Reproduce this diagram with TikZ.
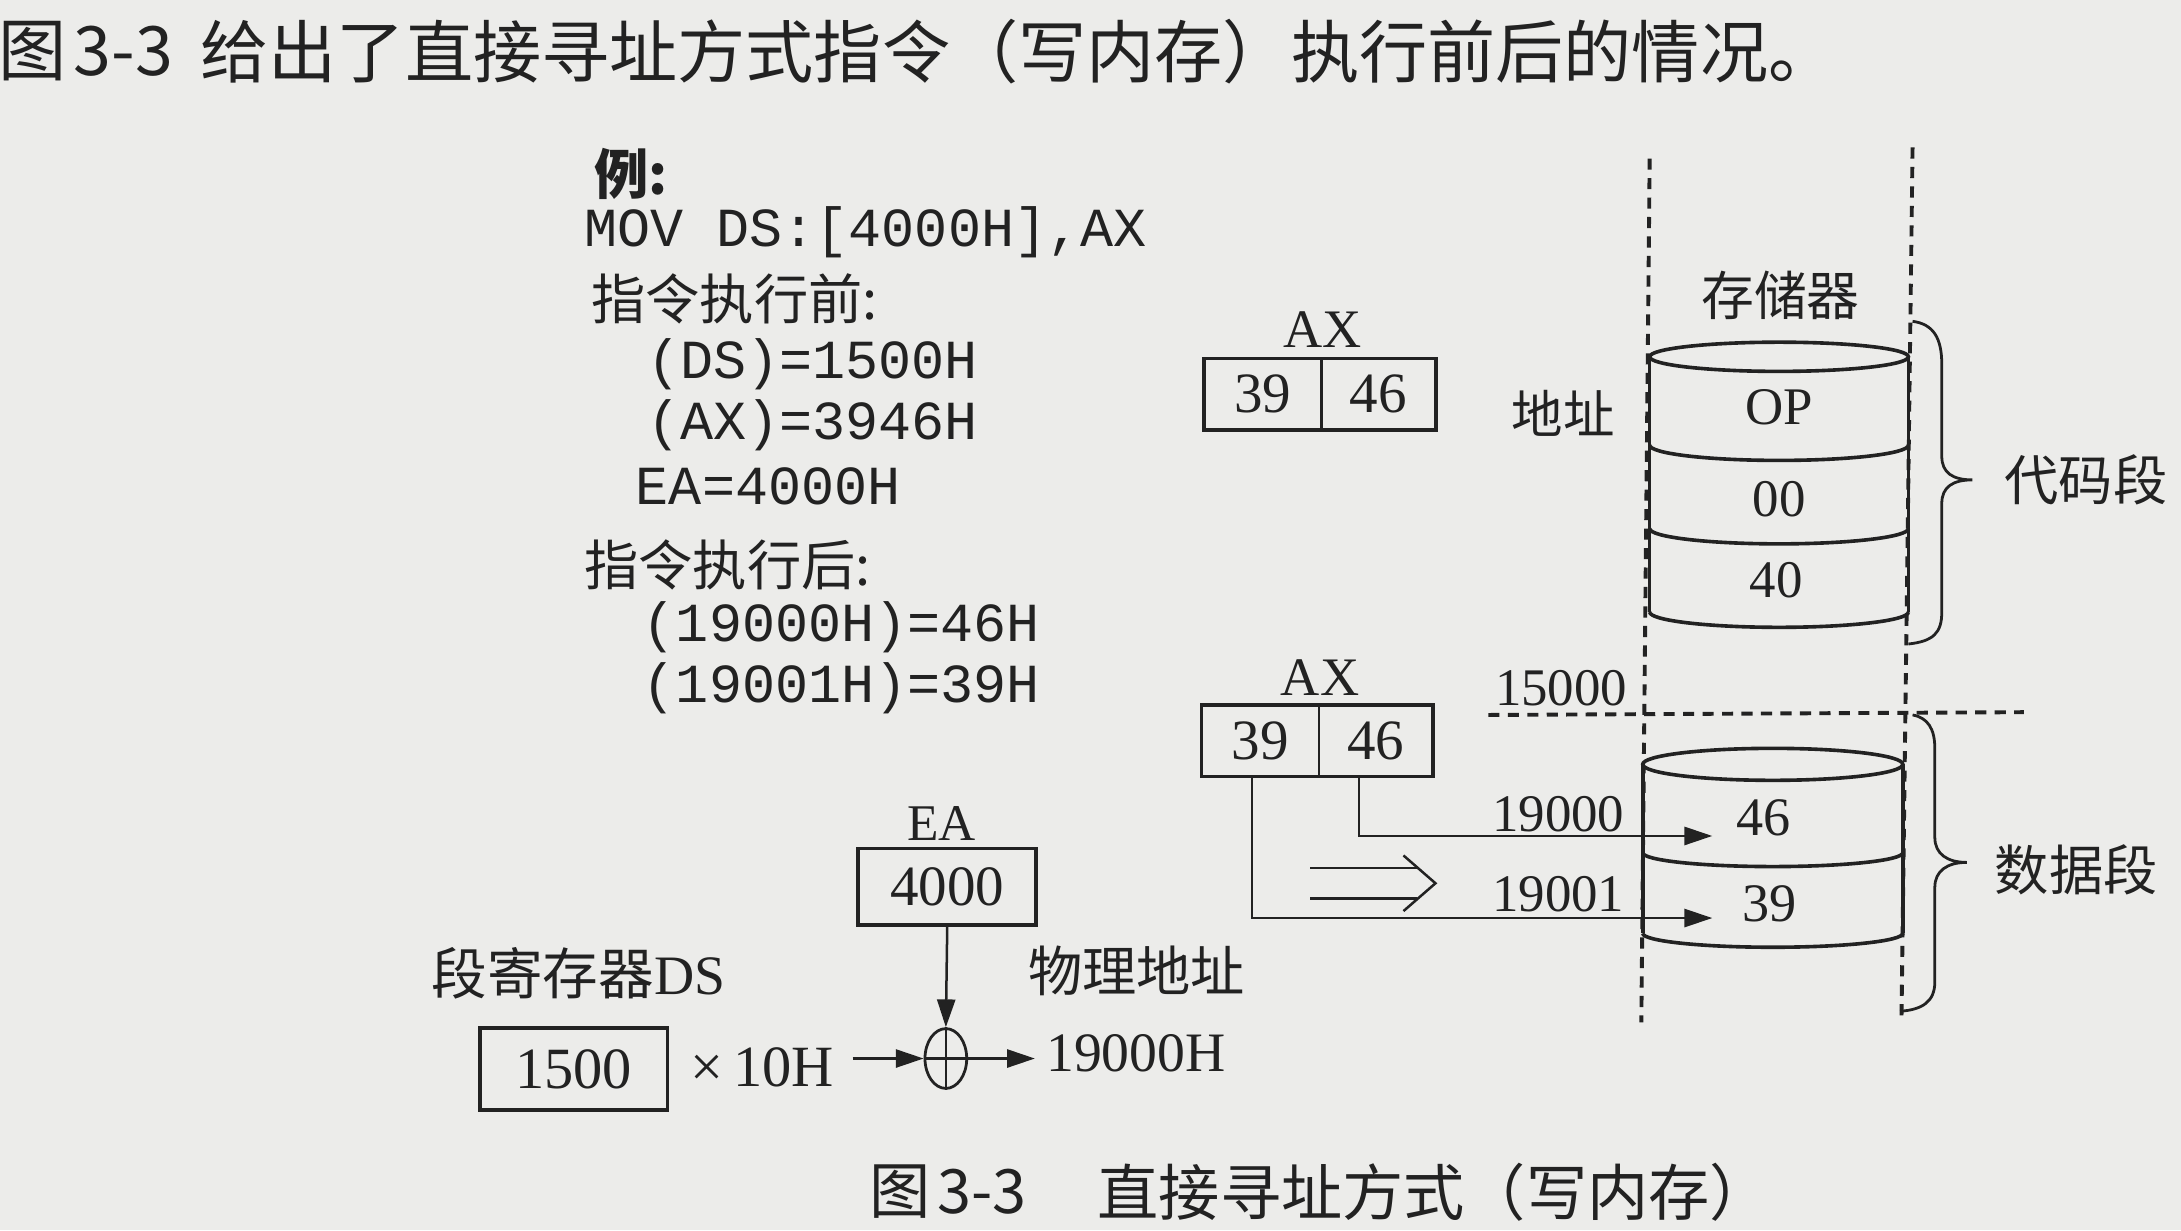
\documentclass[tikz,border=0pt]{standalone}
\usepackage{fontspec}
\setmainfont{Liberation Serif}
\newfontfamily\cjk{Noto Sans CJK SC}
\newfontfamily\mono{Liberation Mono}
\usetikzlibrary{arrows.meta,shapes.geometric}
\newcommand\fsz[1]{\fontsize{#1pt}{#1pt}\selectfont}
\definecolor{ink}{RGB}{34,34,34}
\definecolor{paper}{RGB}{236,236,234}
\begin{document}
\begin{tikzpicture}[x=1pt,y=-1pt,
  txt/.style={inner sep=0pt,text=ink},
  cjkt/.style={txt,font=\cjk\fsz{#1}},
  codetxt/.style={txt,font=\mono\fsz{39.6}},
  numtxt/.style={txt,font=\fsz{#1}},
  cell/.style={inner sep=0pt,minimum height=51pt,text=ink,font=\fsz{41}},
  boxline/.style={draw=ink,line width=2.6pt},
  divline/.style={draw=ink,line width=2pt},
  cylline/.style={draw=ink,line width=2.6pt},
  conn/.style={draw=ink,line width=1.8pt},
  arrowtip/.style={-{Triangle[length=20pt,width=13pt]}},
  dashln/.style={draw=ink,line width=2.8pt,dash pattern=on 8pt off 6pt},
  bracepath/.style={draw=ink,line width=2pt},
]
\fill[paper] (0,0) rectangle (1568,884.3);
\useasboundingbox (0,0) rectangle (1568,884.3);

% title
\node[cjkt=49,anchor=west] (tA) at (-1,37) {图};
\node[cjkt=49,anchor=west] (tB) at (53,37) {3-3};
\node[cjkt=49,anchor=west] (tC) at (144,37) {给出了直接寻址方式指令（写内存）执行前后的情况。};

% text block
\node[txt,font=\cjk\bfseries\fsz{39},anchor=west] (ex) at (427,125) {例:};
\node[codetxt,anchor=west] (mov) at (420,167) {MOV DS:[4000H],AX};
\node[cjkt=39,anchor=west] (before) at (425,215) {指令执行前:};
\node[codetxt,anchor=west] (dsv) at (465,262) {(DS)=1500H};
\node[codetxt,anchor=west] (axv) at (465,306) {(AX)=3946H};
\node[codetxt,anchor=west] (eav) at (457,350) {EA=4000H};
\node[cjkt=39,anchor=west] (after) at (420,406) {指令执行后:};
\node[codetxt,anchor=west] (m1) at (462,451) {(19000H)=46H};
\node[codetxt,anchor=west] (m2) at (462,495) {(19001H)=39H};

% top AX register
\node[numtxt=39] (axlab1) at (951,237) {AX};
\node[cell,minimum width=84pt] (r1a) at (908,283.5) {39};
\node[cell,minimum width=82pt] (r1b) at (991,283.5) {46};
\draw[boxline] (r1a.north west) rectangle (r1b.south east);
\draw[divline] (r1a.north east) -- (r1a.south east);

% bottom AX register
\node[numtxt=39] (axlab2) at (949,487) {AX};
\node[cell,minimum width=84pt] (r2a) at (906,532.5) {39};
\node[cell,minimum width=82pt] (r2b) at (989,532.5) {46};
\draw[boxline] (r2a.north west) rectangle (r2b.south east);
\draw[divline] (r2a.north east) -- (r2a.south east);

% dashed guide lines
\coordinate (dl1) at (1186,114); \coordinate (dl2) at (1180,735);
\coordinate (dr1) at (1375,106); \coordinate (dr2) at (1367,735);
\coordinate (dh1) at (1070,514); \coordinate (dh2) at (1455,512);
\draw[dashln] (dl1) -- (dl2);
\draw[dashln] (dr1) -- (dr2);
\draw[dashln] (dh1) -- (dh2);

% labels near memory
\node[cjkt=38] (mem) at (1280,212) {存储器};
\node[cjkt=37] (addr) at (1124,297) {地址};
\node[cjkt=39,anchor=west] (code) at (1441,345) {代码段};
\node[cjkt=39,anchor=west] (data) at (1434,625) {数据段};
\node[numtxt=38,anchor=east] (a15) at (1170,495) {15000};
\node[numtxt=38,anchor=east] (a190) at (1168,585) {19000};
\node[numtxt=38,anchor=east] (a191) at (1168,643) {19001};

% top cylinder (code segment)
\draw[cylline,fill=paper] (1279,256.5) ellipse [x radius=93, y radius=10.5];
\draw[cylline] (1186,256.5) -- (1186,440);
\draw[cylline] (1372,256.5) -- (1372,440);
\draw[cylline] (1186,320) arc[start angle=180,end angle=0,x radius=93,y radius=11];
\draw[cylline] (1186,380) arc[start angle=180,end angle=0,x radius=93,y radius=11];
\draw[cylline] (1186,440) arc[start angle=180,end angle=0,x radius=93,y radius=11];
\node[numtxt=38] (op) at (1279,293) {OP};
\node[numtxt=38] (c00) at (1279,359) {00};
\node[numtxt=38] (c40) at (1277,417) {40};

% bottom cylinder (data segment)
\draw[cylline,fill=paper] (1274.5,549.5) ellipse [x radius=93.5, y radius=11.5];
\draw[cylline] (1181,549.5) -- (1181,671);
\draw[cylline] (1368,549.5) -- (1368,671);
\draw[cylline] (1181,613) arc[start angle=180,end angle=0,x radius=93.5,y radius=10];
\draw[cylline] (1181,671) arc[start angle=180,end angle=0,x radius=93.5,y radius=10];
\node[numtxt=39] (d46) at (1268,588) {46};
\node[numtxt=39] (d39) at (1272,650) {39};

% braces
\draw[bracepath] (1375,231) .. controls (1390,233) and (1396,243) .. (1396,262)
  -- (1396,328) .. controls (1396,340) and (1404,345) .. (1418,345)
  .. controls (1404,345) and (1396,350) .. (1396,362)
  -- (1396,440) .. controls (1396,455) and (1390,461) .. (1372,463);
\draw[bracepath] (1375,514) .. controls (1386,516) and (1391,524) .. (1391,538)
  -- (1391,602) .. controls (1391,614) and (1400,620) .. (1414,620)
  .. controls (1400,620) and (1391,626) .. (1391,638)
  -- (1391,706) .. controls (1391,720) and (1382,726) .. (1366,727);

% connectors from AX into memory
\coordinate (in46) at (1231,601);
\coordinate (in39) at (1231,660);
\draw[conn,arrowtip] ([xshift=-12pt]r2b.south) |- (in46);
\draw[conn,arrowtip] ([xshift=-6pt]r2a.south) |- (in39);

% double arrow symbol
\draw[conn] (942,624) -- (1019,624);
\draw[conn] (942,646) -- (1019,646);
\draw[conn,line join=miter] (1009,615) -- (1032,635) -- (1009,655);

% address computation
\node[numtxt=37] (ealab) at (677,592) {EA};
\node[boxline,inner sep=0pt,minimum width=128pt,minimum height=55pt,text=ink,font=\fsz{41}] (eabox) at (681,637.5) {4000};
\node[txt,anchor=west,font=\fsz{40}] (segds) at (310,700) {{\cjk 段寄存器}DS};
\node[boxline,inner sep=0pt,minimum width=135pt,minimum height=59pt,text=ink,font=\fsz{42}] (dsbox) at (412.5,768.5) {1500};
\node[numtxt=42] (mul) at (548,767) {×\,10H};
\node[draw=ink,line width=2pt,ellipse,inner sep=0pt,minimum width=30pt,minimum height=43pt] (sum) at (680,761) {};
\draw[conn] (sum.north) -- (sum.south);
\draw[conn] (sum.west) -- (sum.east);
\node[cjkt=39,anchor=west] (phys) at (739,698) {物理地址};
\node[numtxt=40,anchor=west] (pa) at (752,757) {19000H};
\coordinate (la) at (613,761);
\draw[conn,arrowtip] (eabox.south) -- (sum.north);
\draw[conn,arrowtip] (la) -- (sum.west);
\draw[conn,arrowtip] (sum.east) -- ([xshift=-8pt]sum.east -| pa.west);

% caption
\node[cjkt=44,anchor=west] (cA) at (625,857) {图};
\node[cjkt=44,anchor=west] (cB) at (674,857) {3-3};
\node[cjkt=44,anchor=west] (cC) at (789,857) {直接寻址方式（写内存）};
\end{tikzpicture}
\end{document}
